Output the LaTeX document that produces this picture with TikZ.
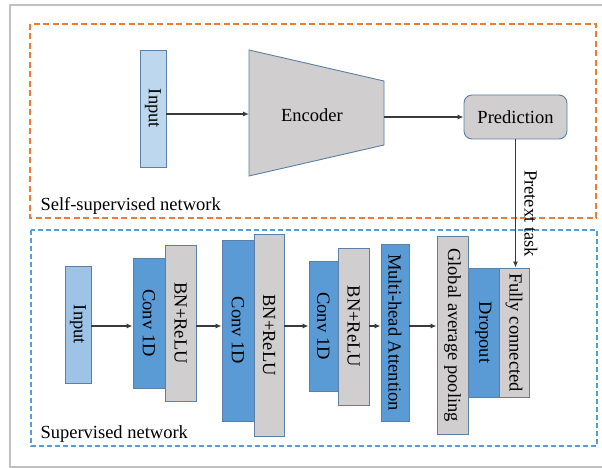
\documentclass[tikz,border=0pt]{standalone}
\usepackage{fontspec}
\usepackage{graphicx}
\setmainfont{Liberation Serif}
\usetikzlibrary{arrows.meta}
\definecolor{lightin}{HTML}{BDD7EE}
\definecolor{midin}{HTML}{9DC3E6}
\definecolor{blueL}{HTML}{5B9BD5}
\definecolor{grayL}{HTML}{D0CECE}
\definecolor{edgeC}{HTML}{5B7FA6}
\definecolor{arrowC}{HTML}{3A3A3A}
\definecolor{orangeD}{HTML}{ED7D31}
\definecolor{blueD}{HTML}{5B9BD5}
\definecolor{frameC}{HTML}{C0C0C0}
\tikzset{
  lbl/.style={font=\fontsize{18.5}{20}\selectfont, text=black},
  blk/.style={draw=edgeC, line width=0.9pt, inner sep=0pt, lbl},
  bluebox/.style={blk, fill=blueL},
  graybox/.style={blk, fill=grayL},
  arr/.style={draw=arrowC, line width=1.1pt, -{Latex[length=6pt,width=5pt]}},
  dashO/.style={draw=orangeD, line width=1.8pt, dash pattern=on 6pt off 3.5pt},
  dashB/.style={draw=blueD, line width=1.6pt, dash pattern=on 5pt off 3pt},
}
\newcommand{\rl}[1]{\rotatebox{-90}{#1}}
\begin{document}
\begin{tikzpicture}[x=1pt,y=-1pt]
\useasboundingbox (0,0) rectangle (602,468);
% outer frame
\draw[frameC, line width=1.5pt] (602,5) -- (10,5) -- (10,467) -- (602,467);
% group frames
\draw[dashO] (30,24) rectangle (596,218);
\draw[dashB] (31,230) rectangle (597,446);
\node[lbl, anchor=base west] (selflbl) at (37,210) {Self-supervised network};
\node[lbl, anchor=base west] (suplbl) at (37,438) {Supervised network};

% self-supervised part
\node[blk, fill=lightin, minimum width=26, minimum height=117] (sin) at (153,108.5) {\rl{Input}};
\draw[draw=edgeC, line width=0.9pt, fill=grayL] (249,50) -- (384,81) -- (384,145) -- (249,176) -- cycle;
\node[lbl] (enc) at (312,115) {Encoder};
\coordinate (encin) at (249,114);
\coordinate (encout) at (384,117);
\node[blk, fill=grayL, rounded corners=8pt, minimum width=103, minimum height=44] (pred) at (515.5,117) {Prediction};
\draw[arr] (sin.east |- encin) -- (encin);
\draw[arr] (encout) -- (encout -| pred.west);

% supervised part
\node[blk, fill=midin, minimum width=26, minimum height=117] (in) at (78,324.5) {\rl{Input}};
\node[bluebox, minimum width=32, minimum height=130] (c1) at (149,323) {\rl{Conv 1D}};
\node[graybox, minimum width=31, minimum height=156] (b1) at (180.5,323) {\rl{BN+ReLU}};
\node[bluebox, minimum width=32, minimum height=181] (c2) at (238,330.5) {\rl{Conv 1D}};
\node[graybox, minimum width=30, minimum height=202] (b2) at (269,335) {\rl{BN+ReLU}};
\node[bluebox, minimum width=29, minimum height=130] (c3) at (323.5,326) {\rl{Conv 1D}};
\node[graybox, minimum width=31, minimum height=157] (b3) at (353.5,326.5) {\rl{BN+ReLU}};
\node[bluebox, minimum width=28, minimum height=177] (mha) at (395,332.5) {\rl{Multi-head Attention}};
\node[graybox, minimum width=31, minimum height=198] (gap) at (452.5,335) {\rl{Global average pooling}};
\node[bluebox, minimum width=31, minimum height=129] (drop) at (483.5,332.5) {\rl{Dropout}};
\node[graybox, minimum width=30, minimum height=129] (fc) at (514,332.5) {\rl{Fully connected}};

\coordinate (row) at (0,326);
\draw[arr] (in.east |- row) -- (c1.west |- row);
\draw[arr] (b1.east |- row) -- (c2.west |- row);
\draw[arr] (b2.east |- row) -- (c3.west |- row);
\draw[arr] (b3.east |- row) -- (mha.west |- row);
\draw[arr] (mha.east |- row) -- (gap.west |- row);

% pretext task
\draw[arr] (pred.south) -- (pred.south |- fc.north);
\node[lbl] (pretext) at (531,213.5) {\rl{Pretext task}};
\end{tikzpicture}
\end{document}
